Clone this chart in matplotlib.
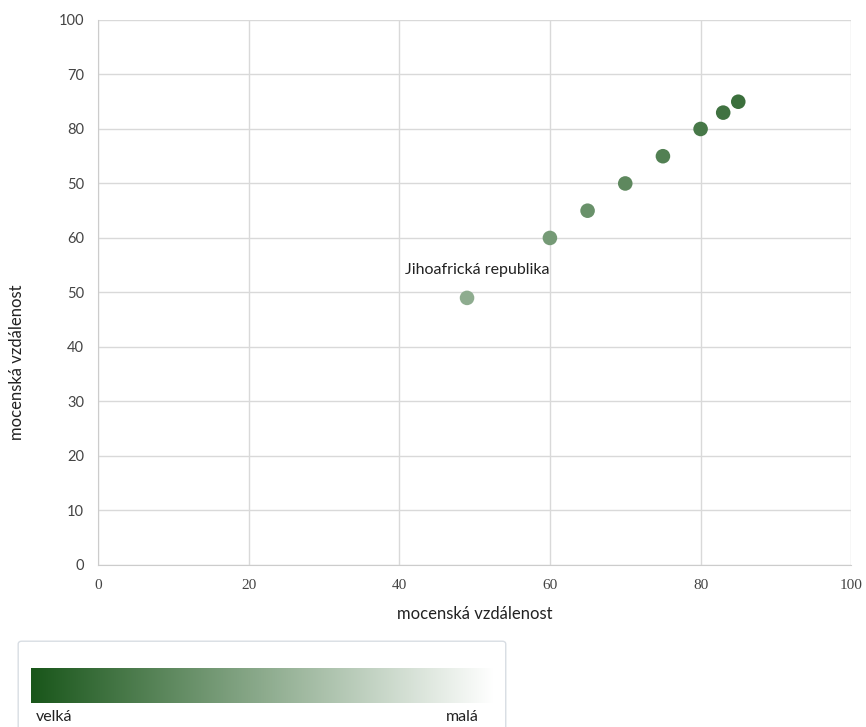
import numpy as np
import matplotlib
matplotlib.use('Agg')
import matplotlib.pyplot as plt
from matplotlib.colors import LinearSegmentedColormap
from matplotlib.patches import FancyBboxPatch

# ---------------- data ----------------
x_vals = [49, 60, 65, 70, 75, 80, 83, 85]
y_vals = [49, 60, 65, 70, 75, 80, 83, 85]
x_ticks = [0, 20, 40, 60, 80, 100]
y_ticks = [0, 10, 20, 30, 40, 50, 60, 70, 80, 90, 100]
y_tick_labels = ['0', '10', '20', '30', '40', '50', '60', '50', '80', '70', '100']
label_name = 'Jihoafrická republika'
label_pos = (50.4, 54.2)
axis_title = 'mocenská vzdálenost'
legend_lo, legend_hi = 'velká', 'malá'

# ---------------- figure ----------------
cmap = LinearSegmentedColormap.from_list('grn', ['#ffffff', '#19561a'])
fig = plt.figure(figsize=(8.66, 7.27), dpi=100)
ax = fig.add_axes([0.113, 0.223, 0.870, 0.7495])

ax.scatter(x_vals, y_vals, c=x_vals, cmap=cmap, vmin=0, vmax=100,
           s=110, zorder=3, linewidths=0)
ax.set_xlim(0, 100); ax.set_ylim(0, 100)
ax.set_xticks(x_ticks)
ax.set_xticklabels([str(t) for t in x_ticks], fontfamily='Liberation Serif',
                   fontsize=11, color='#444444')
ax.set_yticks(y_ticks)
ax.set_yticklabels(y_tick_labels, fontfamily='Lato', fontsize=10.5, color='#444444')
ax.tick_params(length=0, pad=10)
ax.grid(True, color='#d9d9d9', lw=1)
for s in ['top', 'right']:
    ax.spines[s].set_visible(False)
for s in ['left', 'bottom']:
    ax.spines[s].set_color('#cccccc')
ax.set_axisbelow(True)
ax.set_xlabel(axis_title, fontfamily='Lato', fontsize=12, color='#222222', labelpad=10)
ax.set_ylabel(axis_title, fontfamily='Lato', fontsize=12, color='#222222')
ax.yaxis.set_label_coords(-0.097, 0.372)
ax.text(label_pos[0], label_pos[1], label_name, ha='center', va='center',
        fontfamily='Lato', fontsize=11.5, color='#222222')

# legend box with gradient
box = FancyBboxPatch((0.021, -0.05), 0.563, 0.168, boxstyle='round,pad=0,rounding_size=0.004',
                     transform=fig.transFigure, facecolor='white', edgecolor='#d8dde3',
                     lw=1, zorder=-5)
fig.patches.append(box)
gax = fig.add_axes([0.0358, 0.033, 0.5335, 0.048])
gax.set_zorder(5)
grad = np.linspace(100, 0, 256).reshape(1, -1)
gax.imshow(grad, aspect='auto', cmap=cmap, vmin=0, vmax=100)
gax.set_axis_off()
fig.text(0.041, 0.014, legend_lo, fontfamily='Lato', fontsize=11.5, color='#222222',
         ha='left', va='center')
fig.text(0.553, 0.014, legend_hi, fontfamily='Lato', fontsize=11.5, color='#222222',
         ha='right', va='center')

fig.savefig('out.png', dpi=100)
